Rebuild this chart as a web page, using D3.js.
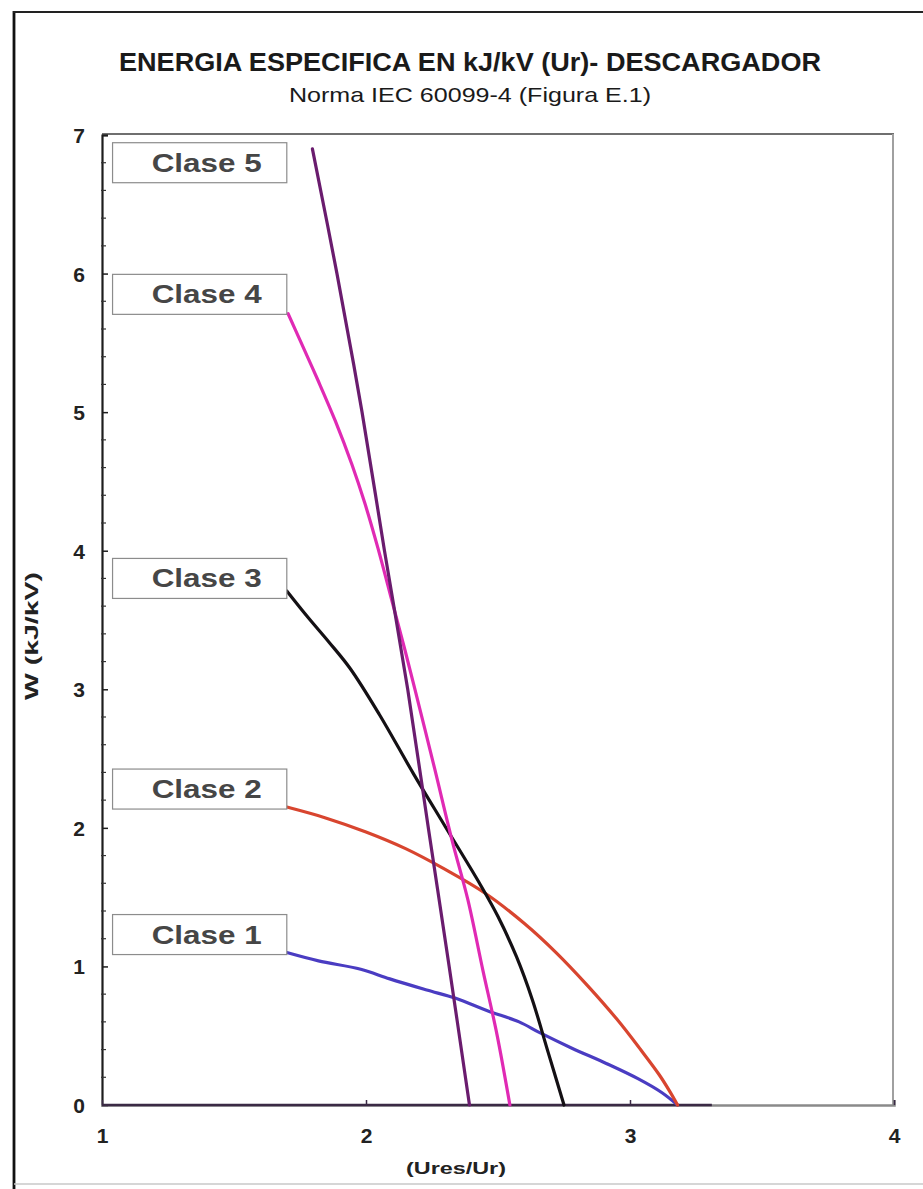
<!DOCTYPE html>
<html>
<head>
<meta charset="utf-8">
<script src="https://cdn.jsdelivr.net/npm/d3@7"></script>
<style>
  html, body { margin: 0; padding: 0; background: #fff; }
  svg { display: block; }
  text { font-family: "Liberation Sans", Arial, sans-serif; }
</style>
</head>
<body>
<svg id="chart" width="923" height="1189"></svg>
<script>
// Specific energy W (kJ/kV of Ur) versus residual-voltage ratio Ures/Ur, per line discharge class
const clase1X = [1.70, 1.82, 1.98, 2.09, 2.23, 2.34, 2.46, 2.58, 2.66, 2.78, 2.91, 3.03, 3.12, 3.18];
const clase1W = [1.10, 1.04, 0.98, 0.91, 0.83, 0.77, 0.68, 0.60, 0.52, 0.41, 0.30, 0.19, 0.09, 0.00];

const clase2X = [1.70, 1.85, 2.00, 2.15, 2.30, 2.45, 2.60, 2.72, 2.84, 2.95, 3.04, 3.11, 3.15, 3.18];
const clase2W = [2.15, 2.07, 1.97, 1.85, 1.70, 1.53, 1.31, 1.10, 0.86, 0.62, 0.40, 0.22, 0.10, 0.00];

const clase3X = [1.70, 1.78, 1.86, 1.94, 2.05, 2.18, 2.30, 2.43, 2.50, 2.57, 2.63, 2.69, 2.75];
const clase3W = [3.71, 3.52, 3.34, 3.15, 2.82, 2.39, 2.01, 1.60, 1.36, 1.07, 0.76, 0.38, 0.00];

const clase4X = [1.705, 1.75, 1.818, 1.883, 1.947, 1.996, 2.045, 2.098, 2.148, 2.205, 2.261, 2.326, 2.386, 2.443, 2.496, 2.545];
const clase4W = [5.71, 5.52, 5.23, 4.94, 4.62, 4.34, 4.02, 3.64, 3.28, 2.85, 2.42, 1.91, 1.48, 0.97, 0.51, 0.00];

const clase5X = [1.797, 1.890, 1.985, 2.070, 2.158, 2.236, 2.315, 2.392];
const clase5W = [6.90, 6.00, 5.00, 4.00, 3.00, 2.00, 1.00, 0.00];

const claseNames = ["Clase 1", "Clase 2", "Clase 3", "Clase 4", "Clase 5"];
const claseColors = ["#4a3cc2", "#d8452f", "#141014", "#e02ab4", "#6a1c6e"];
// centre of each class label box, in W units
const labelW = [1.23, 2.28, 3.80, 5.85, 6.80];

const xTicks = [1, 2, 3, 4];
const yTicks = [0, 1, 2, 3, 4, 5, 6, 7];
const yMinorStep = 0.2;

const titleText = "ENERGIA ESPECIFICA EN kJ/kV (Ur)- DESCARGADOR";
const subtitleText = "Norma IEC 60099-4 (Figura E.1)";
const xAxisTitle = "(Ures/Ur)";
const yAxisTitle = "W (kJ/kV)";

const series = [
  { x: clase1X, w: clase1W },
  { x: clase2X, w: clase2W },
  { x: clase3X, w: clase3W },
  { x: clase4X, w: clase4W },
  { x: clase5X, w: clase5W }
].map((s, i) => ({
  name: claseNames[i],
  color: claseColors[i],
  labelW: labelW[i],
  points: s.x.map((v, j) => [v, s.w[j]])
}));

const svg = d3.select("#chart");

const x = d3.scaleLinear().domain([1, 4]).range([102, 894]);
const y = d3.scaleLinear().domain([0, 7]).range([1105, 135]);

// outer frame (left and top dark, bottom light)
svg.append("line").attr("x1", 14).attr("x2", 14).attr("y1", 11).attr("y2", 1189)
  .attr("stroke", "#111").attr("stroke-width", 2.8);
svg.append("line").attr("x1", 13).attr("x2", 923).attr("y1", 12).attr("y2", 12)
  .attr("stroke", "#222").attr("stroke-width", 2.2);
svg.append("line").attr("x1", 14).attr("x2", 923).attr("y1", 1184).attr("y2", 1184)
  .attr("stroke", "#c8c8c8").attr("stroke-width", 1.5);

// titles
svg.append("text")
  .attr("x", 470).attr("y", 71)
  .attr("text-anchor", "middle")
  .attr("font-size", 25).attr("font-weight", "bold")
  .attr("textLength", 702).attr("lengthAdjust", "spacingAndGlyphs")
  .attr("fill", "#1a1a1a")
  .text(titleText);

svg.append("text")
  .attr("x", 470).attr("y", 102)
  .attr("text-anchor", "middle")
  .attr("font-size", 21)
  .attr("textLength", 362).attr("lengthAdjust", "spacingAndGlyphs")
  .attr("fill", "#1a1a1a")
  .text(subtitleText);

// plot frame: top and right borders in grey
svg.append("line")
  .attr("x1", x(1)).attr("x2", x(4)).attr("y1", y(7) - 1).attr("y2", y(7) - 1)
  .attr("stroke", "#6f6f6f").attr("stroke-width", 2);
svg.append("line")
  .attr("x1", x(4) - 1).attr("x2", x(4) - 1).attr("y1", y(7) - 1).attr("y2", y(0))
  .attr("stroke", "#a0a0a0").attr("stroke-width", 2);

// y axis
const yAxis = d3.axisLeft(y).tickValues(yTicks).tickSize(-6).tickFormat(d3.format("d"));
const gy = svg.append("g").attr("transform", `translate(${x(1)},0)`).call(yAxis);
gy.select(".domain").attr("stroke", "#1e1e1e").attr("stroke-width", 2.2);
gy.selectAll(".tick line").attr("stroke", "#1e1e1e").attr("stroke-width", 1.5);
gy.selectAll(".tick text")
  .attr("x", -23).attr("text-anchor", "middle").attr("dy", "0.36em")
  .attr("font-size", 21).attr("font-weight", "bold").attr("fill", "#222")
  .attr("font-family", "'Liberation Sans', Arial, sans-serif");

const yMinor = d3.range(0, 7 + 1e-9, yMinorStep).filter(v => Math.abs(v - Math.round(v)) > 1e-6);
svg.append("g").selectAll("line").data(yMinor).join("line")
  .attr("x1", x(1) - 1).attr("x2", x(1) + 4)
  .attr("y1", d => y(d)).attr("y2", d => y(d))
  .attr("stroke", "#333").attr("stroke-width", 1.2);

// x axis
const xAxis = d3.axisBottom(x).tickValues(xTicks).tickSize(-5).tickFormat(d3.format("d"));
const gx = svg.append("g").attr("transform", `translate(0,${y(0)})`).call(xAxis);
gx.select(".domain").attr("stroke", "#8a8a8a").attr("stroke-width", 2.5);
gx.selectAll(".tick line").attr("stroke", "#3b2a45").attr("stroke-width", 1.5);
gx.selectAll(".tick text")
  .attr("y", 23).attr("dy", "0.71em")
  .attr("font-size", 21).attr("font-weight", "bold").attr("fill", "#222")
  .attr("font-family", "'Liberation Sans', Arial, sans-serif");

// the zero-valued stretch of the series overlays the axis line
svg.append("line")
  .attr("x1", x(1)).attr("x2", x(3.31))
  .attr("y1", y(0)).attr("y2", y(0))
  .attr("stroke", "#3b2a45").attr("stroke-width", 2.5);

// axis titles
svg.append("text")
  .attr("x", 456).attr("y", 1174)
  .attr("text-anchor", "middle")
  .attr("font-size", 17).attr("font-weight", "bold")
  .attr("textLength", 100).attr("lengthAdjust", "spacingAndGlyphs")
  .attr("fill", "#222")
  .text(xAxisTitle);

svg.append("text")
  .attr("transform", "translate(38,636) rotate(-90)")
  .attr("text-anchor", "middle")
  .attr("font-size", 18).attr("font-weight", "bold")
  .attr("textLength", 128).attr("lengthAdjust", "spacingAndGlyphs")
  .attr("fill", "#222")
  .text(yAxisTitle);

// curves
const line = d3.line().x(d => x(d[0])).y(d => y(d[1])).curve(d3.curveCatmullRom.alpha(0.5));
svg.append("g").selectAll("path").data(series).join("path")
  .attr("d", d => line(d.points))
  .attr("fill", "none")
  .attr("stroke", d => d.color)
  .attr("stroke-width", 3.2)
  .attr("stroke-linejoin", "round")
  .attr("stroke-linecap", "round");

// class labels in boxes
const boxHalf = 20;
const labels = svg.append("g").selectAll("g").data(series).join("g");
labels.append("rect")
  .attr("x", x(1.04))
  .attr("y", d => y(d.labelW) - boxHalf)
  .attr("width", x(1.70) - x(1.04))
  .attr("height", boxHalf * 2)
  .attr("fill", "#fff")
  .attr("stroke", "#8c8c8c")
  .attr("stroke-width", 1.2);
labels.append("text")
  .attr("x", (x(1.04) + x(1.70)) / 2 + 7)
  .attr("y", d => y(d.labelW))
  .attr("dy", "0.36em")
  .attr("text-anchor", "middle")
  .attr("font-size", 25).attr("font-weight", "bold")
  .attr("textLength", 110).attr("lengthAdjust", "spacingAndGlyphs")
  .attr("fill", "#464646")
  .text(d => d.name);
</script>
</body>
</html>
